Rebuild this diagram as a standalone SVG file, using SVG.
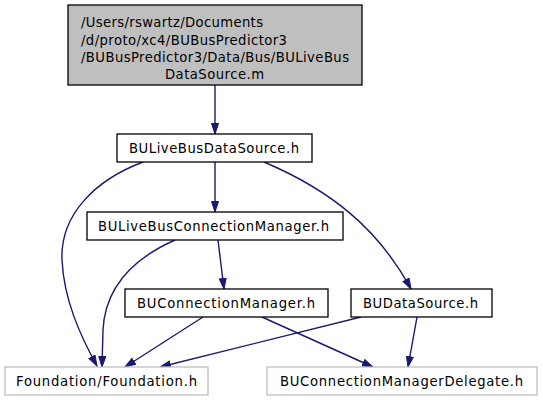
<svg xmlns="http://www.w3.org/2000/svg" width="543" height="400" viewBox="0 0 543 400">
<style>
text{font-family:"DejaVu Sans","Liberation Sans",sans-serif;font-size:13.2px;fill:#000}
.n{fill:#fff;stroke:#000;stroke-width:1.3}
.g{fill:#fff;stroke:#bfbfbf;stroke-width:1.3}
.top{fill:#bfbfbf;stroke:#000;stroke-width:1.3}
.e{fill:none;stroke:#191970;stroke-width:1.4;marker-end:url(#a)}
</style>
<defs>
<marker id="a" markerUnits="userSpaceOnUse" markerWidth="12" markerHeight="9" refX="11" refY="4" orient="auto">
<path d="M0.5,0.5 L11,4 L0.5,7.5 z" fill="#191970" stroke="#191970" stroke-width="1"/>
</marker>
</defs>
<g id="edges">
<path class="e" d="M215,85 L215,134"/>
<path class="e" d="M215,162 L215,212"/>
<path class="e" d="M143,162 C95,180 60,215 62,260 C64,300 80,335 97,366"/>
<path class="e" d="M264,162 C330,190 378,228 411,289"/>
<path class="e" d="M175,240 C130,260 105,290 103,330 L102,367"/>
<path class="e" d="M218,240 L224,289"/>
<path class="e" d="M203,317 L125,367"/>
<path class="e" d="M262,317 L373,367"/>
<path class="e" d="M361,317 L160,367"/>
<path class="e" d="M417,317 L408,367"/>
</g>
<g id="node-main">
<rect class="top" x="68" y="5" width="294" height="80"/>
<text x="81" y="27" textLength="182" lengthAdjust="spacing">/Users/rswartz/Documents</text>
<text x="81" y="44.5" textLength="206" lengthAdjust="spacing">/d/proto/xc4/BUBusPredictor3</text>
<text x="81" y="62" textLength="268" lengthAdjust="spacing">/BUBusPredictor3/Data/Bus/BULiveBus</text>
<text x="165" y="79" textLength="99" lengthAdjust="spacing">DataSource.m</text>
</g>
<g id="node-BULiveBusDataSource">
<rect class="n" x="117" y="134" width="195" height="28"/>
<text x="129" y="153" textLength="170" lengthAdjust="spacing">BULiveBusDataSource.h</text>
</g>
<g id="node-BULiveBusConnectionManager">
<rect class="n" x="87" y="212" width="256" height="28"/>
<text x="98" y="231" textLength="231" lengthAdjust="spacing">BULiveBusConnectionManager.h</text>
</g>
<g id="node-BUConnectionManager">
<rect class="n" x="125" y="289" width="203" height="28"/>
<text x="137" y="308" textLength="178" lengthAdjust="spacing">BUConnectionManager.h</text>
</g>
<g id="node-BUDataSource">
<rect class="n" x="351" y="289" width="141" height="28"/>
<text x="363" y="308" textLength="115" lengthAdjust="spacing">BUDataSource.h</text>
</g>
<g id="node-Foundation">
<rect class="g" x="5" y="367" width="203" height="28"/>
<text x="16" y="386" textLength="181" lengthAdjust="spacing">Foundation/Foundation.h</text>
</g>
<g id="node-BUConnectionManagerDelegate">
<rect class="g" x="267" y="367" width="270" height="28"/>
<text x="280" y="386" textLength="243" lengthAdjust="spacing">BUConnectionManagerDelegate.h</text>
</g>
</svg>
